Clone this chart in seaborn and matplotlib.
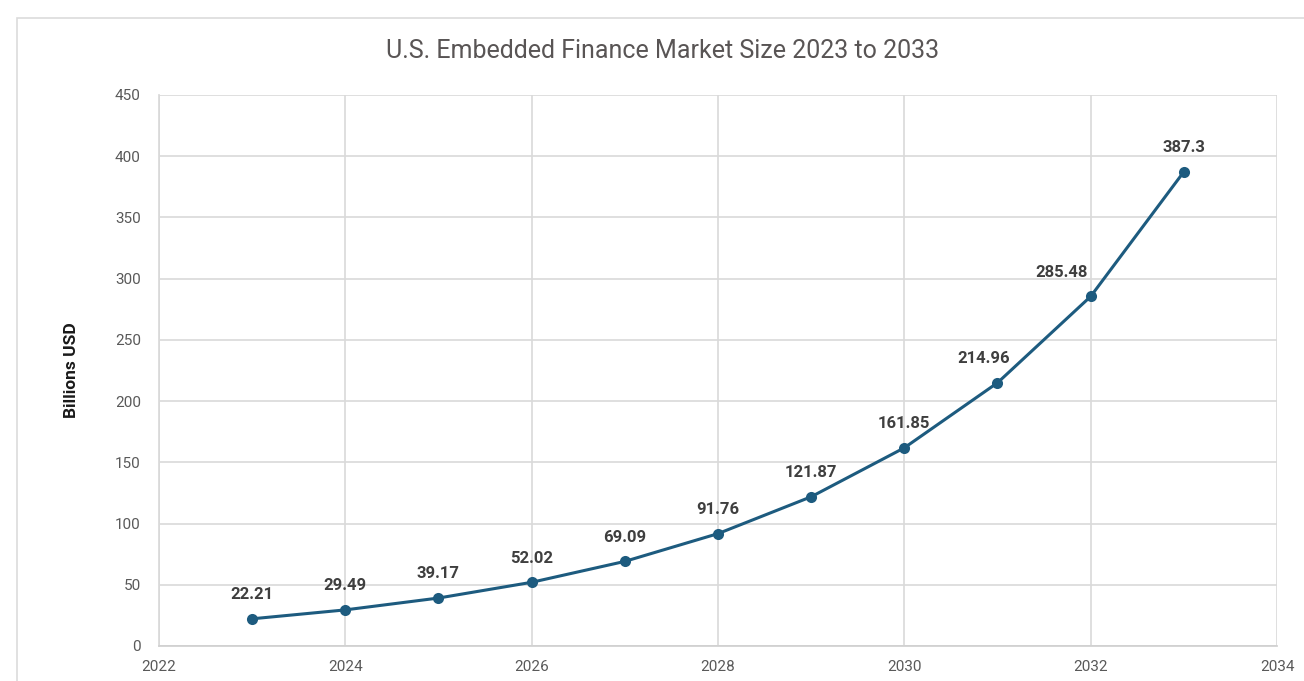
import matplotlib
matplotlib.use("Agg")
import matplotlib.pyplot as plt
import seaborn as sns
import pandas as pd
from matplotlib.patches import Rectangle

years = [2023, 2024, 2025, 2026, 2027, 2028, 2029, 2030, 2031, 2032, 2033]
market_size = [22.21, 29.49, 39.17, 52.02, 69.09, 91.76, 121.87, 161.85, 214.96, 285.48, 387.3]
value_labels = ["22.21", "29.49", "39.17", "52.02", "69.09", "91.76", "121.87",
                "161.85", "214.96", "285.48", "387.3"]
x_ticks = [2022, 2024, 2026, 2028, 2030, 2032, 2034]
y_ticks = [0, 50, 100, 150, 200, 250, 300, 350, 400, 450]

# label nudges (points) so the upper labels clear the steep part of the curve
label_dx = {2031: -10, 2032: -21}

df = pd.DataFrame({"Year": years, "Size": market_size})

sns.set_theme(style="white")
plt.rcParams["font.family"] = ["Roboto", "DejaVu Sans"]

fig = plt.figure(figsize=(13.04, 6.81), dpi=100)
ax = fig.add_axes([0.1219, 0.0514, 0.8574, 0.8091])

# outer chart frame
fig.patches.append(Rectangle((17 / 1304, -0.05), 1.1, 1 - 18 / 681 + 0.05,
                             transform=fig.transFigure, fill=False,
                             edgecolor="#dcdcdc", linewidth=1.2, zorder=0))

line_color = "#1d5b7f"
sns.lineplot(data=df, x="Year", y="Size", ax=ax, color=line_color, linewidth=2.2,
             marker="o", markersize=8, markeredgewidth=0, zorder=3)

for x, y, lab in zip(years, market_size, value_labels):
    ax.annotate(lab, (x, y), xytext=(label_dx.get(x, 0), 12), textcoords="offset points",
                ha="center", va="bottom", fontsize=12, fontweight="bold",
                color="#3f3f3f")

ax.set_xlim(2022, 2034)
ax.set_ylim(0, 450)
ax.set_xticks(x_ticks)
ax.set_yticks(y_ticks)
ax.grid(True, color="#d9d9d9", linewidth=1.2)
for s in ax.spines.values():
    s.set_visible(False)
ax.spines["left"].set_visible(True)
ax.spines["left"].set_color("#d9d9d9")
ax.spines["bottom"].set_visible(True)
ax.spines["bottom"].set_color("#d0d0d0")
ax.tick_params(axis="both", length=0, labelsize=11, colors="#595959")
ax.tick_params(axis="x", pad=10)
ax.tick_params(axis="y", pad=13)
ax.set_xlabel("")
ax.set_ylabel("Billions USD", fontsize=12.5, fontweight="bold", color="#1a1a1a", labelpad=26)

fig.text(663 / 1304, 1 - 51 / 681, "U.S. Embedded Finance Market Size 2023 to 2033",
         ha="center", va="center", fontsize=18, color="#595555")

fig.savefig("out.png", dpi=100)
